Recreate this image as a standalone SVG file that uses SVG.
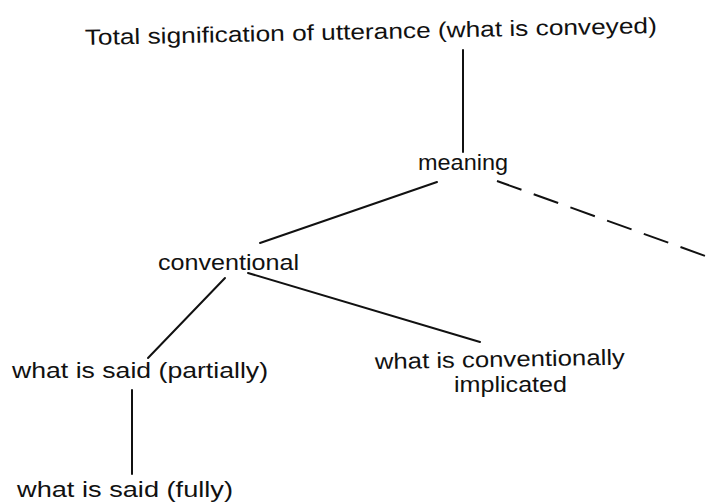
<svg xmlns="http://www.w3.org/2000/svg" width="711" height="504" viewBox="0 0 711 504">
  <style>
    .lbl { font-family: "Liberation Sans", "DejaVu Sans", Arial, sans-serif; font-size: 22px; fill: #111; }
    .edge { stroke: #111; stroke-width: 2; fill: none; stroke-linecap: round; }
    .dash { stroke-dasharray: 26 13; stroke-linecap: butt; }
  </style>
  <rect width="711" height="504" fill="#fff"/>
  <g id="connectors">
    <line class="edge" x1="463" y1="50" x2="463" y2="152"/>
    <line class="edge" x1="437" y1="182" x2="260" y2="243"/>
    <line class="edge dash" x1="497" y1="181" x2="711" y2="258"/>
    <line class="edge" x1="225" y1="278" x2="148" y2="358"/>
    <line class="edge" x1="248" y1="273" x2="480" y2="342"/>
    <line class="edge" x1="132" y1="390" x2="132" y2="474"/>
  </g>
  <g id="node-total">
    <text class="lbl" x="85" y="45" textLength="572" lengthAdjust="spacingAndGlyphs" transform="rotate(-1.2 85 45)">Total signification of utterance  (what is conveyed)</text>
  </g>
  <g id="node-meaning">
    <text class="lbl" x="418" y="170" textLength="90" lengthAdjust="spacingAndGlyphs">meaning</text>
  </g>
  <g id="node-conventional">
    <text class="lbl" x="158" y="270" textLength="141" lengthAdjust="spacingAndGlyphs">conventional</text>
  </g>
  <g id="node-said-partially">
    <text class="lbl" x="12" y="378" textLength="256" lengthAdjust="spacingAndGlyphs">what is said (partially)</text>
  </g>
  <g id="node-conv-implicated">
    <text class="lbl" x="375" y="369" textLength="250" lengthAdjust="spacingAndGlyphs" transform="rotate(-1 375 369)">what is conventionally</text>
    <text class="lbl" x="454" y="392" textLength="113" lengthAdjust="spacingAndGlyphs">implicated</text>
  </g>
  <g id="node-said-fully">
    <text class="lbl" x="17" y="497" textLength="216" lengthAdjust="spacingAndGlyphs">what is said (fully)</text>
  </g>
</svg>
